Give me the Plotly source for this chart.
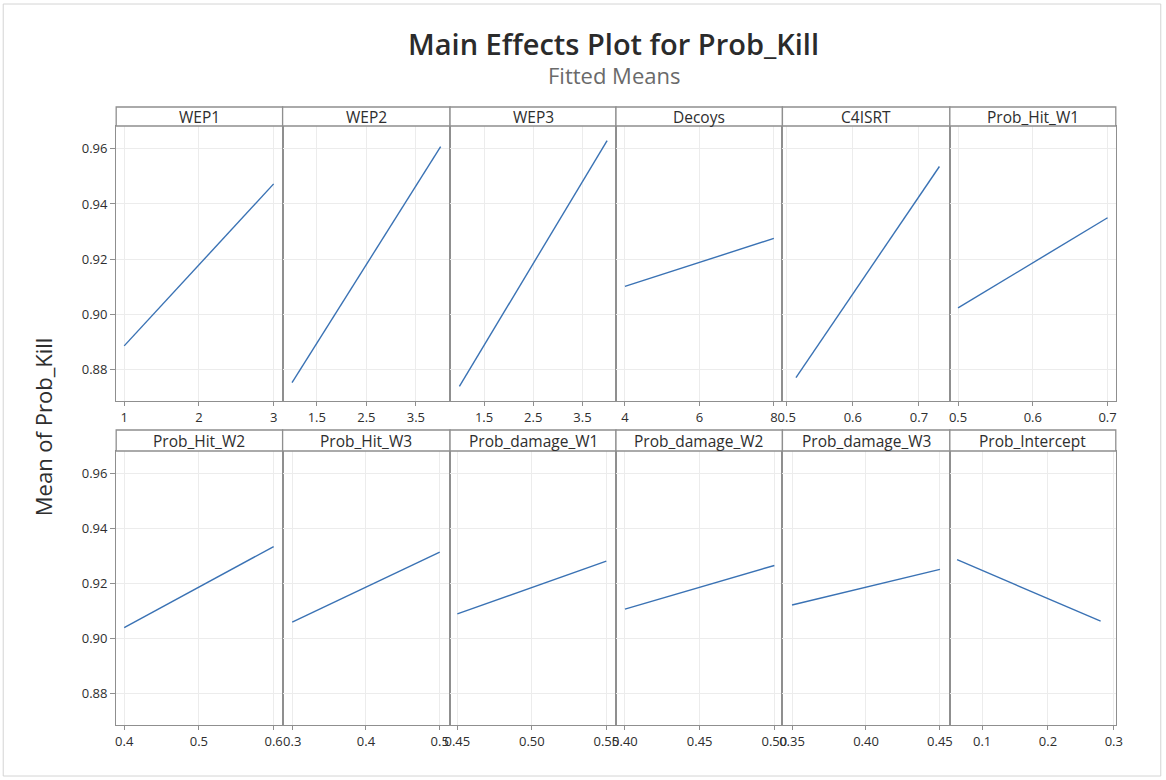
import plotly.graph_objects as go

# ---------------- data ----------------
factors = ["WEP1", "WEP2", "WEP3", "Decoys", "C4ISRT", "Prob_Hit_W1",
           "Prob_Hit_W2", "Prob_Hit_W3", "Prob_damage_W1", "Prob_damage_W2",
           "Prob_damage_W3", "Prob_Intercept"]
x_low = [1, 1, 1, 4, 0.514, 0.5, 0.4, 0.3, 0.45, 0.40, 0.35, 0.062]
x_high = [3, 4, 4, 8, 0.731, 0.7, 0.6, 0.5, 0.55, 0.50, 0.45, 0.28]
mean_low = [0.8885, 0.8752, 0.8738, 0.9101, 0.8770, 0.9023,
            0.9040, 0.9060, 0.9090, 0.9107, 0.9122, 0.9287]
mean_high = [0.9473, 0.9608, 0.9630, 0.9275, 0.9536, 0.9350,
             0.9335, 0.9315, 0.9282, 0.9266, 0.9252, 0.9063]
x_tickvals = [[1, 2, 3], [1.5, 2.5, 3.5], [1.5, 2.5, 3.5], [4, 6, 8],
              [0.5, 0.6, 0.7], [0.5, 0.6, 0.7], [0.4, 0.5, 0.6], [0.3, 0.4, 0.5],
              [0.45, 0.50, 0.55], [0.40, 0.45, 0.50], [0.35, 0.40, 0.45],
              [0.1, 0.2, 0.3]]
x_ticktext = [["1", "2", "3"], ["1.5", "2.5", "3.5"], ["1.5", "2.5", "3.5"],
              ["4", "6", "8"], ["0.5", "0.6", "0.7"], ["0.5", "0.6", "0.7"],
              ["0.4", "0.5", "0.6"], ["0.3", "0.4", "0.5"],
              ["0.45", "0.50", "0.55"], ["0.40", "0.45", "0.50"],
              ["0.35", "0.40", "0.45"], ["0.1", "0.2", "0.3"]]
y_tickvals = [0.88, 0.90, 0.92, 0.94, 0.96]
y_ticktext = ["0.88", "0.90", "0.92", "0.94", "0.96"]

# ---------------- layout geometry ----------------
W, H = 1166, 780
XS = 1.01  # small horizontal correction


def fx(px):
    return 0.5 + (px / W - 0.5) * XS


def fy(px):
    return 1 - px / H


x_ranges = [[0.893, 3.12], [0.81, 4.19], [0.81, 4.18], [3.76, 8.23],
            [0.4935, 0.7468], [0.489, 0.711], [0.3893, 0.612], [0.287, 0.514],
            [0.4451, 0.5565], [0.394, 0.5054], [0.3435, 0.4567], [0.051, 0.303]]
y_range = [0.8685, 0.9683]
col_px = [117, 283.5, 451, 617, 783.5, 951, 1117]
rows_px = [dict(strip=(107, 126), plot=(126, 401)),
           dict(strip=(430, 451), plot=(451, 725))]

BLUE = "#3a72b4"
BORDER = "#8f8f8f"
GRID = "#ececec"
TXT = "#2e2e2e"
FONT = "Open Sans"

fig = go.Figure()
layout = dict(autosize=True, margin=dict(l=0, r=0, t=0, b=0),
              paper_bgcolor="white", plot_bgcolor="white", showlegend=False,
              shapes=[], annotations=[])

for i, name in enumerate(factors):
    r, c = divmod(i, 6)
    k = "" if i == 0 else str(i + 1)
    fig.add_trace(go.Scatter(x=[x_low[i], x_high[i]], y=[mean_low[i], mean_high[i]],
                             mode="lines", line=dict(color=BLUE, width=1.4),
                             xaxis="x" + k, yaxis="y" + k, hoverinfo="x+y"))
    x0, x1 = fx(col_px[c]), fx(col_px[c + 1])
    pt, pb = rows_px[r]["plot"]
    st, sb = rows_px[r]["strip"]
    layout["xaxis" + k] = dict(domain=[x0, x1], range=x_ranges[i], anchor="y" + k,
                               tickvals=x_tickvals[i], ticktext=x_ticktext[i],
                               ticks="outside", ticklen=4, tickcolor=BORDER,
                               showgrid=True, gridcolor=GRID, zeroline=False,
                               showline=True, mirror=True, linecolor=BORDER, linewidth=1.3,
                               tickfont=dict(family=FONT, size=13, color=TXT),
                               fixedrange=True)
    layout["yaxis" + k] = dict(domain=[fy(pb), fy(pt)], range=y_range,
                               anchor="x" + k, tickvals=y_tickvals, ticktext=y_ticktext,
                               showticklabels=(c == 0), ticks="outside" if c == 0 else "",
                               ticklen=5, tickcolor=BORDER,
                               showgrid=True, gridcolor=GRID, zeroline=False,
                               showline=True, mirror=True, linecolor=BORDER, linewidth=1.3,
                               tickfont=dict(family=FONT, size=13, color=TXT),
                               fixedrange=True)
    layout["shapes"].append(dict(type="rect", xref="paper", yref="paper",
                                 x0=x0, x1=x1, y0=fy(sb), y1=fy(st),
                                 line=dict(color=BORDER, width=1.3), fillcolor="white"))
    layout["annotations"].append(dict(text=name, xref="paper", yref="paper",
                                      x=(x0 + x1) / 2, y=fy((st + sb) / 2),
                                      xanchor="center", yanchor="middle", showarrow=False,
                                      font=dict(family=FONT, size=15.5, color=TXT)))

# outer frame
layout["shapes"].append(dict(type="rect", xref="paper", yref="paper",
                             x0=fx(4), x1=fx(1162), y0=fy(776), y1=fy(4),
                             line=dict(color="#d4d4d4", width=1)))

layout["annotations"] += [
    dict(text="Main Effects Plot for Prob_Kill", xref="paper", yref="paper",
         x=fx(615), y=fy(43), xanchor="center", yanchor="middle", showarrow=False,
         font=dict(family=FONT, size=29, color="#2b2b2b", weight=600)),
    dict(text="Fitted Means", xref="paper", yref="paper",
         x=fx(615), y=fy(75), xanchor="center", yanchor="middle", showarrow=False,
         font=dict(family=FONT, size=22, color="#6a6a6a")),
    dict(text="Mean of Prob_Kill", xref="paper", yref="paper",
         x=fx(44), y=fy(427), xanchor="center", yanchor="middle", showarrow=False,
         textangle=-90, font=dict(family=FONT, size=22, color=TXT)),
]

fig.update_layout(**layout)
fig.write_html("out.html", default_width="100vw", default_height="100vh",
               config={"displayModeBar": False, "responsive": True},
               post_script="document.body.style.margin='0px';"
                           "document.body.style.overflow='hidden';"
                           "Plotly.Plots.resize(document.getElementById('{plot_id}'));")
